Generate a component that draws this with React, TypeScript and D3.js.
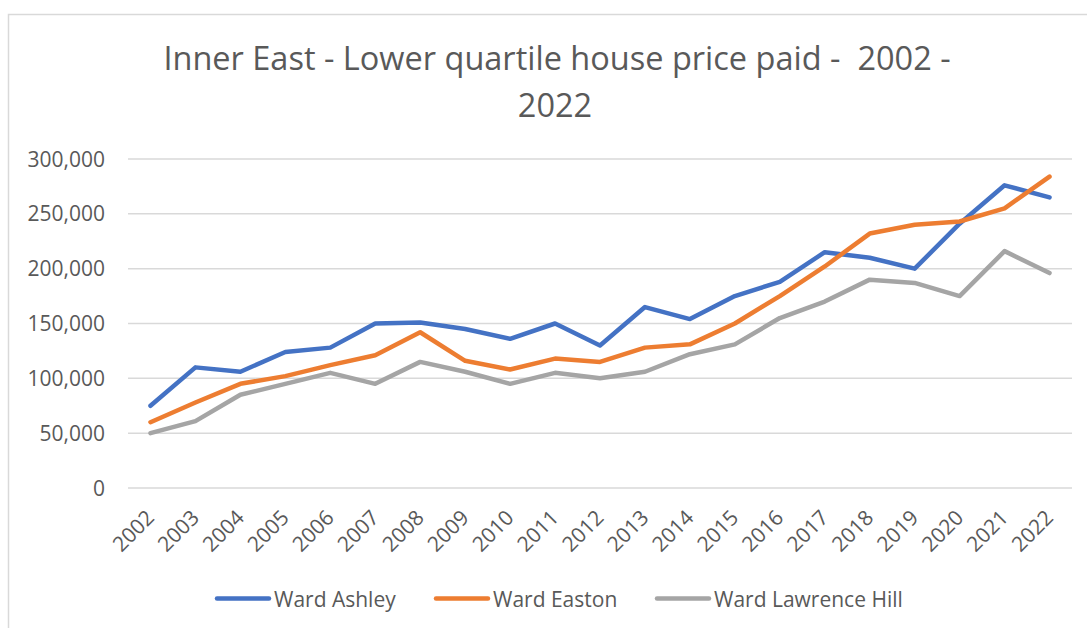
import React from "react";
import * as d3 from "d3";

const years = ["2002","2003","2004","2005","2006","2007","2008","2009","2010","2011","2012","2013","2014","2015","2016","2017","2018","2019","2020","2021","2022"];
const ashley = [75000,110000,106000,124000,128000,150000,151000,145000,136000,150000,130000,165000,154000,175000,188000,215000,210000,200000,241000,276000,265000];
const easton = [60000,78000,95000,102000,112000,121000,142000,116000,108000,118000,115000,128000,131000,150000,175000,202000,232000,240000,243000,255000,284000];
const lawrenceHill = [50000,61000,85000,95000,105000,95000,115000,106000,95000,105000,100000,106000,122000,131000,155000,170000,190000,187000,175000,216000,196000];
const yTicks = [0,50000,100000,150000,200000,250000,300000];
const seriesNames = ["Ward Ashley","Ward Easton","Ward Lawrence Hill"];
const seriesColors = ["#4472C4","#ED7D31","#A5A5A5"];

const W = 1087, H = 628;
const plotLeft = 128, plotRight = 1072, plotTop = 159, plotBottom = 488;
const textColor = "#595959";
const font = "'Open Sans', sans-serif";

export default function App() {
  const x = d3.scaleBand<string>().domain(years).range([plotLeft, plotRight]).padding(0);
  const y = d3.scaleLinear().domain([0, 300000]).range([plotBottom, plotTop]);
  const fmt = d3.format(",");
  const cx = (yr: string) => (x(yr) as number) + x.bandwidth() / 2;
  const line = d3.line<number>().x((_, i) => cx(years[i])).y((v) => y(v));
  const allSeries = [ashley, easton, lawrenceHill];

  const legendItems = [
    { lx: 215, tx: 274 },
    { lx: 434, tx: 493 },
    { lx: 655, tx: 714 },
  ];

  return (
    <svg width={W} height={H} style={{ position: "absolute", left: 0, top: 0, background: "#fff" }} fontFamily={font}>
      <rect x={0} y={0} width={W} height={H} fill="#fff" />
      <rect x={8.5} y={14.5} width={1200} height={800} fill="#fff" stroke="#d9d9d9" strokeWidth={1.5} />
      <text x={557} y={70} textAnchor="middle" fontSize={32.5} fill={textColor} style={{ whiteSpace: "pre" }}>{"Inner East - Lower quartile house price paid -  2002 -"}</text>
      <text x={555} y={116.5} textAnchor="middle" fontSize={32.5} fill={textColor}>2022</text>
      {yTicks.map((t) => (
        <g key={t}>
          <line x1={plotLeft} x2={plotRight} y1={y(t)} y2={y(t)} stroke="#d9d9d9" strokeWidth={1.5} />
          <text x={105} y={y(t) + 7.5} textAnchor="end" fontSize={21} fill={textColor}>{fmt(t)}</text>
        </g>
      ))}
      {years.map((yr) => (
        <text key={yr} x={0} y={0} textAnchor="end" fontSize={21} fill={textColor}
          transform={`translate(${cx(yr) + 5},${519}) rotate(-45)`}>{yr}</text>
      ))}
      {allSeries.map((s, i) => (
        <path key={i} d={line(s) as string} fill="none" stroke={seriesColors[i]} strokeWidth={4.5}
          strokeLinejoin="round" strokeLinecap="round" />
      ))}
      {seriesNames.map((n, i) => (
        <g key={n}>
          <line x1={legendItems[i].lx + 2} x2={legendItems[i].lx + 54} y1={598.5} y2={598.5}
            stroke={seriesColors[i]} strokeWidth={4.5} strokeLinecap="round" />
          <text x={legendItems[i].tx} y={606.5} fontSize={21} fill={textColor}>{n}</text>
        </g>
      ))}
    </svg>
  );
}
